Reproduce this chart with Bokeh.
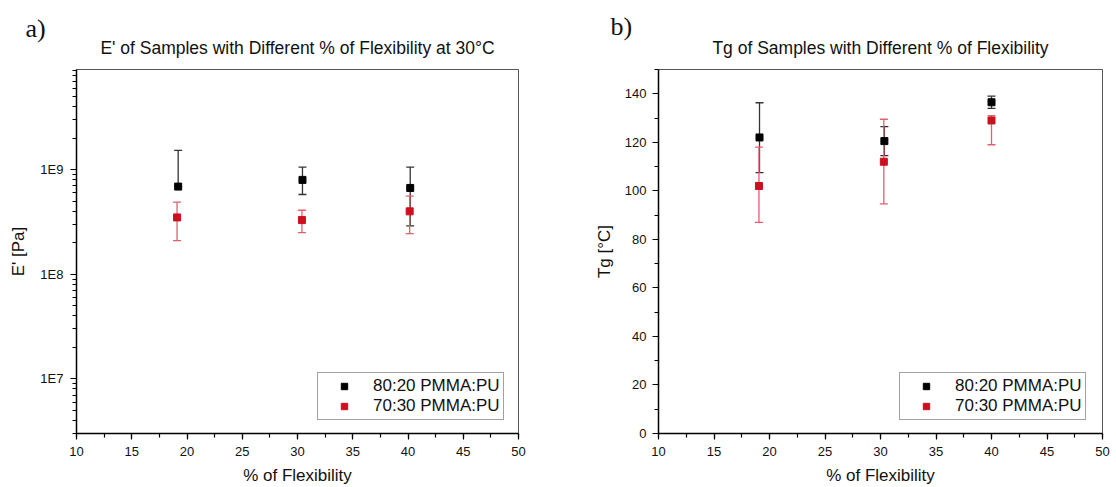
from bokeh.plotting import figure
from bokeh.models import (ColumnDataSource, Whisker, TeeHead, Legend, LegendItem,
                          Title, FixedTicker, SingleIntervalTicker, CustomJSTickFormatter, Range1d)
from bokeh.layouts import row
from bokeh.embed import file_html
from bokeh.resources import INLINE

# ---------------- data ----------------
series_names = ["80:20 PMMA:PU", "70:30 PMMA:PU"]
titles = ["E' of Samples with Different % of Flexibility at 30°C",
          "Tg of Samples with Different % of Flexibility"]
panel_letters = ["a)", "b)"]

# a) storage modulus E' at 30 C
flex_e_8020 = [19.2, 30.45, 40.2]
E_8020 = [6.9e8, 8.0e8, 6.7e8]
E_8020_hi = [1.53e9, 1.06e9, 1.06e9]
E_8020_lo = [6.9e8, 5.8e8, 2.9e8]

flex_e_7030 = [19.1, 30.4, 40.15]
E_7030 = [3.5e8, 3.3e8, 4.0e8]
E_7030_hi = [4.9e8, 4.1e8, 5.6e8]
E_7030_lo = [2.1e8, 2.5e8, 2.45e8]

# b) glass transition temperature Tg
flex_tg_8020 = [19.1, 30.35, 40.0]
Tg_8020 = [122.0, 120.5, 136.5]
Tg_8020_hi = [136.3, 126.5, 139.0]
Tg_8020_lo = [107.5, 114.5, 134.0]

flex_tg_7030 = [19.05, 30.3, 40.0]
Tg_7030 = [102.0, 112.0, 129.0]
Tg_7030_hi = [118.0, 129.5, 131.0]
Tg_7030_lo = [87.0, 94.6, 119.0]

# ---------------- style ----------------
FONT = "Liberation Sans"
BLACK = "#000000"
RED = "#cc1020"
BLACK_ERR = "#333333"
RED_ERR = "#e2606e"


def style_axes(p):
    for ax in (p.xaxis[0], p.yaxis[0]):
        ax.axis_line_width = 1.5
        ax.axis_line_color = "black"
        ax.major_tick_out = 6
        ax.major_tick_in = 0
        ax.minor_tick_out = 4
        ax.minor_tick_in = 0
        ax.major_tick_line_width = 1.2
        ax.minor_tick_line_width = 1.2
        ax.major_label_text_font = FONT
        ax.major_label_text_font_size = "13px"
        ax.major_label_text_color = "#111111"
        ax.axis_label_text_font = FONT
        ax.axis_label_text_font_size = "17px"
        ax.axis_label_text_font_style = "normal"
        ax.axis_label_text_color = "#111111"
    p.xaxis[0].major_label_standoff = 7
    p.xaxis[0].axis_label_standoff = 7
    p.xaxis[0].ticker = SingleIntervalTicker(interval=5, num_minor_ticks=2)
    p.xgrid.visible = False
    p.ygrid.visible = False
    p.outline_line_color = "#555555"
    p.outline_line_width = 1


def add_titles(p, letter, letter_offset, letter_standoff, text):
    # outermost title: panel letter
    p.title.text = letter
    p.title.align = "left"
    p.title.offset = letter_offset
    p.title.standoff = letter_standoff
    p.title.text_font = "Liberation Serif"
    p.title.text_font_size = "26px"
    p.title.text_font_style = "normal"
    p.title.text_color = "#111111"
    # chart title, nearest the frame
    t = Title(text=text, align="center", standoff=24,
              text_font=FONT, text_font_size="17.5px",
              text_font_style="normal", text_color="#111111")
    p.add_layout(t, "above")


def add_series(p, x, y, hi, lo, color, err_color):
    src = ColumnDataSource(dict(x=x, y=y, hi=hi, lo=lo))
    w = Whisker(source=src, base="x", upper="hi", lower="lo", dimension="height",
                line_color=err_color, line_width=1.3, level="underlay",
                upper_head=TeeHead(size=8, line_color=err_color, line_width=1.3),
                lower_head=TeeHead(size=8, line_color=err_color, line_width=1.3))
    p.add_layout(w)
    r = p.scatter("x", "y", source=src, marker="square", size=7,
                  fill_color=color, line_color=color)
    return r


def add_legend(p, r1, r2, loc):
    leg = Legend(items=[LegendItem(label=series_names[0], renderers=[r1]),
                        LegendItem(label=series_names[1], renderers=[r2])],
                 location=loc, padding=3, spacing=0, glyph_width=46,
                 glyph_height=16, label_height=16, label_standoff=6,
                 label_text_font=FONT, label_text_font_size="17px",
                 label_text_color="#111111",
                 border_line_color="#444444", border_line_width=1,
                 background_fill_alpha=1.0, margin=0)
    p.add_layout(leg)


# ---------------- a) ----------------
p1 = figure(width=580, height=487, y_axis_type="log",
            x_range=Range1d(10, 50), y_range=Range1d(3.0e6, 9.1e9),
            output_backend="svg", toolbar_location=None,
            min_border_left=76, min_border_right=62, min_border_top=69, min_border_bottom=54)
style_axes(p1)
add_titles(p1, panel_letters[0], -51, -38, titles[0])
p1.xaxis.axis_label = "% of Flexibility"
p1.yaxis.axis_label = "E' [Pa]"
decades = [6, 7, 8, 9]
p1.yaxis[0].ticker = FixedTicker(ticks=[10.0 ** d for d in (7, 8, 9)],
                                 minor_ticks=[k * 10.0 ** d for d in decades for k in range(2, 10)])
p1.yaxis[0].formatter = CustomJSTickFormatter(code="return '1E' + Math.round(Math.log10(tick));")
p1.yaxis[0].major_label_standoff = 7
p1.yaxis[0].axis_label_standoff = 9

ra1 = add_series(p1, flex_e_8020, E_8020, E_8020_hi, E_8020_lo, BLACK, BLACK_ERR)
ra2 = add_series(p1, flex_e_7030, E_7030, E_7030_hi, E_7030_lo, RED, RED_ERR)
add_legend(p1, ra1, ra2, (241, 13))

# ---------------- b) ----------------
p2 = figure(width=536, height=487,
            x_range=Range1d(10, 50), y_range=Range1d(0, 150),
            output_backend="svg", toolbar_location=None,
            min_border_left=78, min_border_right=14, min_border_top=66, min_border_bottom=54)
style_axes(p2)
add_titles(p2, panel_letters[1], -48, -34, titles[1])
p2.xaxis.axis_label = "% of Flexibility"
p2.yaxis.axis_label = "Tg [°C]"
p2.yaxis[0].ticker = SingleIntervalTicker(interval=20, num_minor_ticks=2)
p2.yaxis[0].major_label_standoff = 6
p2.yaxis[0].axis_label_standoff = 8

rb1 = add_series(p2, flex_tg_8020, Tg_8020, Tg_8020_hi, Tg_8020_lo, BLACK, BLACK_ERR)
rb2 = add_series(p2, flex_tg_7030, Tg_7030, Tg_7030_hi, Tg_7030_lo, RED, RED_ERR)
add_legend(p2, rb1, rb2, (241, 13))

layout = row(p1, p2)
open("out.html", "w").write(file_html(layout, INLINE))
